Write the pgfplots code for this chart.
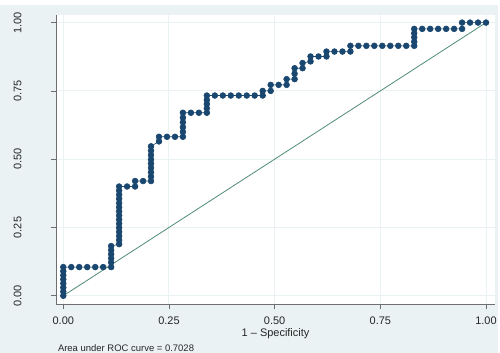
\documentclass[border=0pt]{standalone}
\usepackage{pgfplots}
\pgfplotsset{compat=1.18}
\usepackage{fontspec}
\setmainfont{Liberation Sans}
\definecolor{bg}{RGB}{234,242,243}
\definecolor{navy}{RGB}{26,71,111}
\definecolor{refl}{RGB}{80,140,115}
\definecolor{axc}{RGB}{110,110,110}
\begin{document}
\begin{tikzpicture}
\fill[bg] (0pt,0pt) rectangle (500pt,354pt);
\fill[white] (0pt,349pt) rectangle (500pt,354pt);
\begin{axis}[at={(56pt,49pt)}, anchor=south west, scale only axis,
 width=441pt, height=290pt,
 xmin=-0.0177, xmax=1.022, ymin=-0.030, ymax=1.028,
 axis background/.style={fill=white},
 axis lines*=left, axis line style={axc, line width=0.6pt},
 xtick={0,0.25,0.5,0.75,1}, ytick={0,0.25,0.5,0.75,1},
 tick align=outside, major tick length=5pt, tick style={axc, line width=0.6pt},
 grid=major, major grid style={bg, line width=1pt},
 /pgf/number format/.cd, fixed, fixed zerofill, precision=2, assume math mode=true, /pgfplots/.cd,
 tick label style={font=\fontsize{11}{13}\selectfont, text=black!85},
 yticklabel style={xshift=-26pt, rotate=90, anchor=south},
 xticklabel style={yshift=-4.5pt},
 xlabel={1 -- Specificity},
 xlabel style={font=\fontsize{11}{13}\selectfont, text=black!85, yshift=3pt},
 clip=false]
\addplot[navy, line width=0.6pt, mark=*, mark size=2.9pt, mark options={fill=navy, draw=navy}] coordinates {
(0,0) (0,0.015) (0,0.030) (0,0.045) (0,0.060) (0,0.075) (0,0.090) (0,0.105)
(0.0189,0.105) (0.0377,0.105) (0.0566,0.105) (0.0755,0.105) (0.0943,0.105)
(0.1132,0.105) (0.1132,0.122) (0.1132,0.137) (0.1132,0.152) (0.1132,0.167) (0.1132,0.182)
(0.1321,0.189) (0.1321,0.204) (0.1321,0.219) (0.1321,0.234) (0.1321,0.249) (0.1321,0.264) (0.1321,0.279) (0.1321,0.294) (0.1321,0.309) (0.1321,0.324) (0.1321,0.339) (0.1321,0.355) (0.1321,0.370) (0.1321,0.385) (0.1321,0.400)
(0.1509,0.400)
(0.1698,0.400) (0.1698,0.420)
(0.1887,0.420)
(0.2075,0.420) (0.2075,0.436) (0.2075,0.452) (0.2075,0.468) (0.2075,0.484) (0.2075,0.499) (0.2075,0.515) (0.2075,0.531) (0.2075,0.547)
(0.2264,0.565) (0.2264,0.582)
(0.2453,0.582) (0.2642,0.582)
(0.2830,0.582) (0.2830,0.600) (0.2830,0.617) (0.2830,0.635) (0.2830,0.652) (0.2830,0.670)
(0.3019,0.670) (0.3208,0.670)
(0.3396,0.670) (0.3396,0.686) (0.3396,0.702) (0.3396,0.717) (0.3396,0.733)
(0.3585,0.733) (0.3774,0.733) (0.3962,0.733) (0.4151,0.733) (0.4340,0.733) (0.4528,0.733)
(0.4717,0.733) (0.4717,0.750)
(0.4906,0.750) (0.4906,0.772)
(0.5094,0.772)
(0.5283,0.772) (0.5283,0.793)
(0.5472,0.793) (0.5472,0.813) (0.5472,0.833)
(0.5660,0.833) (0.5660,0.852)
(0.5849,0.858) (0.5849,0.876)
(0.6038,0.876)
(0.6226,0.876) (0.6226,0.894)
(0.6415,0.894) (0.6604,0.894)
(0.6792,0.894) (0.6792,0.915)
(0.6981,0.915) (0.7170,0.915) (0.7358,0.915) (0.7547,0.915) (0.7736,0.915) (0.7925,0.915) (0.8113,0.915)
(0.8302,0.915) (0.8302,0.930) (0.8302,0.946) (0.8302,0.961) (0.8302,0.977)
(0.8491,0.977) (0.8679,0.977) (0.8868,0.977) (0.9057,0.977) (0.9245,0.977)
(0.9434,0.977) (0.9434,1.000)
(0.9623,1.000) (0.9811,1.000) (1.000,1.000)
};
\addplot[refl, line width=0.8pt] coordinates {(0,0) (1,1)};
\end{axis}
\node[anchor=base west, font=\fontsize{9.5}{11}\selectfont, text=black!85, inner sep=0pt] at (58pt,1pt) {Area under ROC curve = 0.7028};
\end{tikzpicture}
\end{document}
